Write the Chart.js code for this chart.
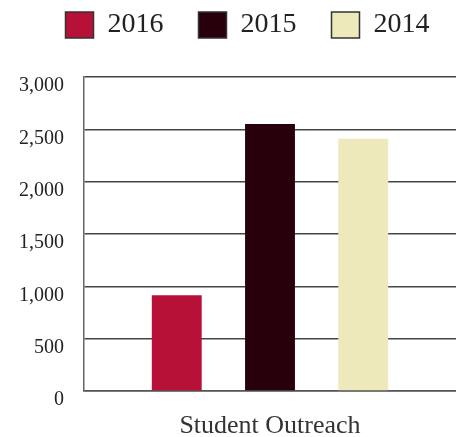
<!DOCTYPE html>
<html lang="en">
<head>
    <meta charset="UTF-8">
    <title>Student Outreach</title>
    <script src="https://cdn.jsdelivr.net/npm/chart.js"></script>
    <style>
        html, body { margin: 0; padding: 0; background: #fff; }
        #wrap { width: 456px; height: 437px; }
    </style>
</head>
<body>
    <div id="wrap"><canvas id="outreachChart"></canvas></div>
    <script>
        // values
        const categories = ['Student Outreach'];
        const years = ['2016', '2015', '2014'];
        const values2016 = [915];
        const values2015 = [2550];
        const values2014 = [2410];
        const yTicks = [0, 500, 1000, 1500, 2000, 2500, 3000];

        const colors = ['#b81137', '#28000c', '#ede9bb'];
        const serif = '"Liberation Serif", "DejaVu Serif", serif';

        // nudge the legend to the right a little, like the original
        const legendShift = {
            id: 'legendShift',
            afterLayout(chart) {
                chart.legend.left += 20;
                chart.legend.right += 20;
            }
        };

        const ctx = document.getElementById('outreachChart').getContext('2d');
        new Chart(ctx, {
            type: 'bar',
            data: {
                labels: categories,
                datasets: [
                    { label: years[0], data: values2016, backgroundColor: colors[0] },
                    { label: years[1], data: values2015, backgroundColor: colors[1] },
                    { label: years[2], data: values2014, backgroundColor: colors[2] }
                ]
            },
            plugins: [legendShift],
            options: {
                responsive: true,
                maintainAspectRatio: false,
                animation: false,
                categoryPercentage: 0.752,
                barPercentage: 0.535,
                layout: { padding: { top: -24, right: 0, left: -1, bottom: -2 } },
                plugins: {
                    tooltip: { enabled: false },
                    // empty title used as spacer under the legend
                    title: {
                        display: true,
                        text: '',
                        font: { size: 1, lineHeight: 1 },
                        padding: { top: 0, bottom: 27 }
                    },
                    legend: {
                        position: 'top',
                        weight: 3000,
                        labels: {
                            color: '#222',
                            font: { family: serif, size: 28 },
                            boxWidth: 28,
                            boxHeight: 26,
                            padding: 35,
                            generateLabels(chart) {
                                return chart.data.datasets.map((ds, i) => ({
                                    text: ds.label,
                                    fillStyle: ds.backgroundColor,
                                    strokeStyle: '#333',
                                    lineWidth: 1.5,
                                    fontColor: '#222',
                                    datasetIndex: i
                                }));
                            }
                        }
                    }
                },
                scales: {
                    x: {
                        grid: { display: false },
                        border: { color: '#555', width: 1.5 },
                        ticks: { display: false },
                        title: {
                            display: true,
                            text: categories[0],
                            color: '#333',
                            font: { family: serif, size: 26, lineHeight: 1 },
                            padding: { top: 14, bottom: 0 }
                        }
                    },
                    y: {
                        min: 0,
                        max: 3000,
                        afterBuildTicks(axis) {
                            axis.ticks = yTicks.map(v => ({ value: v }));
                        },
                        grid: { color: '#444', lineWidth: 1.5, drawTicks: false },
                        border: { color: '#666', width: 1.5 },
                        ticks: {
                            color: '#222',
                            font: { family: serif, size: 20 },
                            padding: 20,
                            labelOffset: 9,
                            callback: v => v.toLocaleString('en-US')
                        }
                    }
                }
            }
        });
    </script>
</body>
</html>
